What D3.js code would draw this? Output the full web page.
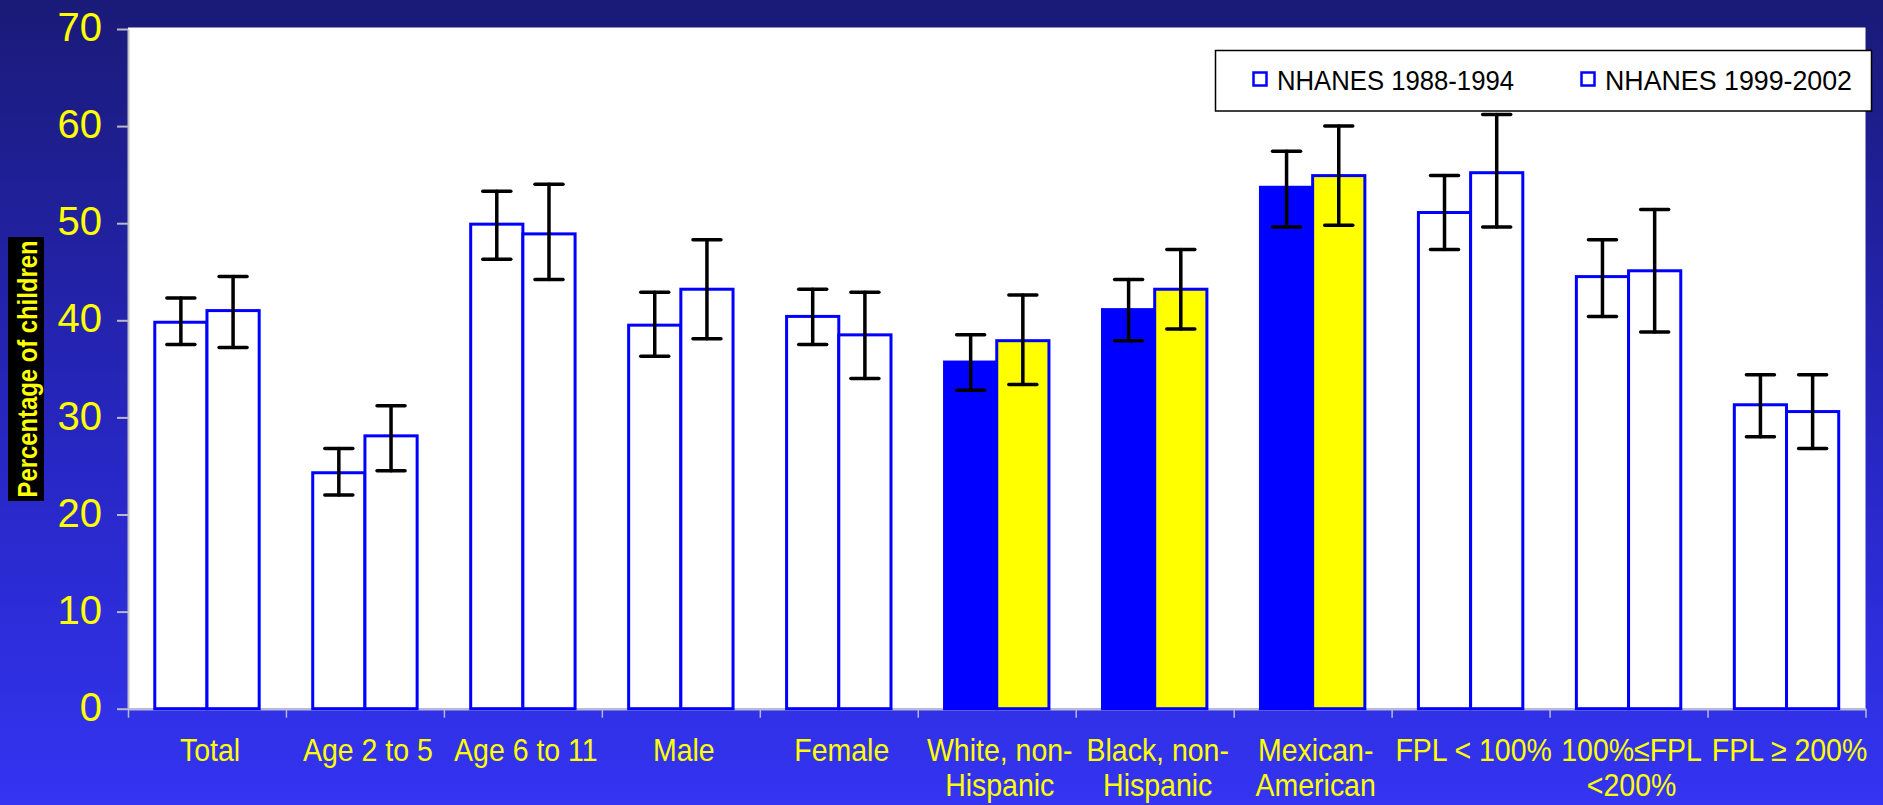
<!DOCTYPE html>
<html>
<head>
<meta charset="utf-8">
<script src="https://cdn.jsdelivr.net/npm/d3@7"></script>
<style>
  html, body { margin: 0; padding: 0; background: #2a2ad0; }
  svg { display: block; }
  text { font-family: "Liberation Sans", Arial, sans-serif; }
</style>
</head>
<body>
<div id="chart"></div>
<script>
// ---------------- DATA ----------------
const categories = [
  "Total", "Age 2 to 5", "Age 6 to 11", "Male", "Female",
  "White, non-\nHispanic", "Black, non-\nHispanic", "Mexican-\nAmerican",
  "FPL < 100%", "100%≤FPL\n<200%", "FPL ≥ 200%"
];
const seriesNames = ["NHANES 1988-1994", "NHANES 1999-2002"];
const values1988 = [39.8, 24.3, 49.9, 39.5, 40.4, 35.7, 41.1, 53.7, 51.1, 44.5, 31.3];
const low1988    = [37.5, 22.0, 46.3, 36.3, 37.5, 32.8, 37.9, 49.6, 47.3, 40.4, 28.0];
const high1988   = [42.3, 26.8, 53.3, 42.9, 43.2, 38.5, 44.2, 57.4, 54.9, 48.3, 34.4];
const values1999 = [41.0, 28.1, 48.9, 43.2, 38.5, 37.9, 43.2, 54.9, 55.2, 45.1, 30.6];
const low1999    = [37.2, 24.5, 44.2, 38.1, 34.0, 33.4, 39.1, 49.8, 49.6, 38.8, 26.8];
const high1999   = [44.5, 31.2, 54.0, 48.3, 42.9, 42.6, 47.3, 60.0, 61.2, 51.4, 34.4];
const highlighted = ["White, non-\nHispanic", "Black, non-\nHispanic", "Mexican-\nAmerican"];
const yTicks = [0, 10, 20, 30, 40, 50, 60, 70];
const yTitle = "Percentage of children";

// ---------------- LAYOUT ----------------
const W = 1883, H = 805;
const plot = { left: 128, right: 1865.5, top: 27.5, bottom: 708.7 };

const svg = d3.select("#chart").append("svg")
  .attr("width", W).attr("height", H);

const defs = svg.append("defs");
const grad = defs.append("linearGradient").attr("id", "bg")
  .attr("x1", 0).attr("y1", 0).attr("x2", 0).attr("y2", 1);
grad.append("stop").attr("offset", "0%").attr("stop-color", "#1a1a78");
grad.append("stop").attr("offset", "60%").attr("stop-color", "#2828c8");
grad.append("stop").attr("offset", "100%").attr("stop-color", "#3434f2");

svg.append("rect").attr("width", W).attr("height", H).attr("fill", "url(#bg)");

// plot area
svg.append("rect")
  .attr("x", plot.left).attr("y", plot.top)
  .attr("width", plot.right - plot.left).attr("height", plot.bottom - plot.top)
  .attr("fill", "#ffffff");

const y = d3.scaleLinear().domain([0, 70]).range([plot.bottom, 29]);
const x = d3.scaleBand().domain(categories).range([plot.left, plot.right]).paddingInner(0).paddingOuter(0);
const xi = d3.scaleBand().domain([0, 1]).range([0, x.bandwidth()]).paddingInner(0).paddingOuter(0.513);
const xEdges = d3.scaleLinear().domain([0, categories.length]).range([plot.left, plot.right]);

// Y axis
const yAxis = svg.append("g")
  .attr("transform", `translate(${plot.left},0)`)
  .call(d3.axisLeft(y).tickValues(yTicks).tickSize(11).tickSizeOuter(0).tickPadding(15));
yAxis.select(".domain").attr("stroke", "#c4c4c4").attr("stroke-width", 2);
yAxis.selectAll(".tick line").attr("stroke", "#b8b8c8").attr("stroke-width", 2);
yAxis.selectAll(".tick text")
  .attr("fill", "#ffff00").attr("font-size", 40).attr("dy", "0.29em")
  .attr("font-family", "'Liberation Sans', Arial, sans-serif");

// X axis (ticks at category boundaries)
const xAxis = svg.append("g")
  .attr("transform", `translate(0,${plot.bottom})`)
  .call(d3.axisBottom(xEdges).tickValues(d3.range(0, categories.length + 1)).tickSize(9).tickSizeOuter(0).tickFormat(""));
xAxis.select(".domain").attr("stroke", "#b8b8d8").attr("stroke-width", 2.5);
xAxis.selectAll(".tick line").attr("stroke", "#b8b8d8").attr("stroke-width", 1.5);

// Bars
const rows = categories.map((c, i) => ({
  c, hl: highlighted.includes(c),
  bars: [
    { s: 0, v: values1988[i], lo: low1988[i], hi: high1988[i] },
    { s: 1, v: values1999[i], lo: low1999[i], hi: high1999[i] }
  ]
}));

const groups = svg.append("g").selectAll("g").data(rows).join("g")
  .attr("transform", d => `translate(${x(d.c)},0)`);

groups.selectAll("rect").data(d => d.bars.map(b => ({ ...b, hl: d.hl }))).join("rect")
  .attr("x", b => xi(b.s))
  .attr("width", xi.bandwidth())
  .attr("y", b => y(b.v))
  .attr("height", b => y(0) - y(b.v))
  .attr("fill", b => b.hl ? (b.s === 0 ? "#0000ff" : "#ffff00") : "#ffffff")
  .attr("stroke", "#0000ff")
  .attr("stroke-width", 3);

// Error bars
const capW = 28;
const eb = groups.selectAll("g.err").data(d => d.bars).join("g").attr("class", "err")
  .attr("stroke", "#000").attr("stroke-width", 3.5).attr("stroke-linecap", "round");
eb.append("line")
  .attr("x1", b => xi(b.s) + xi.bandwidth() / 2).attr("x2", b => xi(b.s) + xi.bandwidth() / 2)
  .attr("y1", b => y(b.lo)).attr("y2", b => y(b.hi));
eb.append("line")
  .attr("x1", b => xi(b.s) + xi.bandwidth() / 2 - capW / 2).attr("x2", b => xi(b.s) + xi.bandwidth() / 2 + capW / 2)
  .attr("y1", b => y(b.hi)).attr("y2", b => y(b.hi));
eb.append("line")
  .attr("x1", b => xi(b.s) + xi.bandwidth() / 2 - capW / 2).attr("x2", b => xi(b.s) + xi.bandwidth() / 2 + capW / 2)
  .attr("y1", b => y(b.lo)).attr("y2", b => y(b.lo));

// X labels (horizontally condensed via scale transform)
const xl = svg.append("g").selectAll("g").data(categories).join("g")
  .attr("transform", c => `translate(${x(c) + x.bandwidth() / 2 + 3},761) scale(0.89,1)`)
  .append("text")
  .attr("x", 0).attr("y", 0)
  .attr("text-anchor", "middle")
  .attr("fill", "#ffff00")
  .attr("font-size", 32);
xl.selectAll("tspan").data(c => c.split("\n")).join("tspan")
  .attr("x", 0)
  .attr("dy", (d, i) => i === 0 ? 0 : 35.5)
  .text(d => d);

// Y title
svg.append("rect").attr("x", 8).attr("y", 237).attr("width", 36).attr("height", 264).attr("fill", "#000");
svg.append("text")
  .attr("transform", "translate(36.5,369) rotate(-90)")
  .attr("text-anchor", "middle")
  .attr("fill", "#ffff00")
  .attr("font-family", "'DejaVu Sans Mono', monospace")
  .attr("font-weight", "bold")
  .attr("font-size", 28)
  .attr("textLength", 257)
  .attr("lengthAdjust", "spacingAndGlyphs")
  .text(yTitle);

// Legend
const lg = svg.append("g");
lg.append("rect").attr("x", 1215.5).attr("y", 50.5).attr("width", 656).attr("height", 60.5)
  .attr("fill", "#fff").attr("stroke", "#000").attr("stroke-width", 1.5);
const legendX = [1252, 1580];
const legendTextLen = [237, 247];
seriesNames.forEach((name, i) => {
  lg.append("rect").attr("x", legendX[i] + 1.5).attr("y", 72.5).attr("width", 13).attr("height", 13)
    .attr("fill", "#fff").attr("stroke", "#0000ff").attr("stroke-width", 2.5);
  lg.append("text").attr("x", legendX[i] + 25).attr("y", 89.5)
    .attr("font-size", 28).attr("fill", "#000")
    .attr("textLength", legendTextLen[i]).attr("lengthAdjust", "spacingAndGlyphs")
    .text(name);
});
</script>
</body>
</html>
